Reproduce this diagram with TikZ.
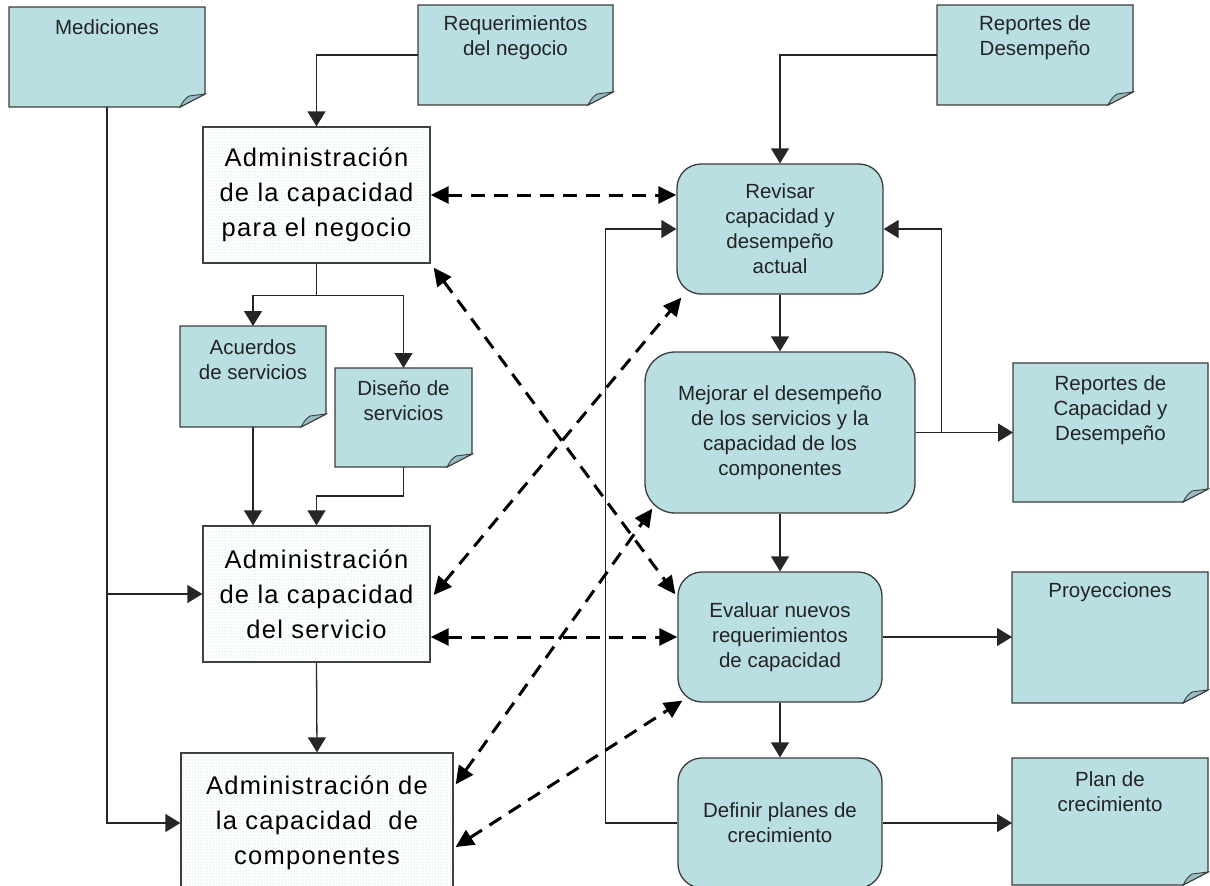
\documentclass[tikz,border=0pt]{standalone}
\usepackage{fontspec}
\setmainfont{Liberation Sans}
\newfontfamily\bigfont[LetterSpace=5]{Liberation Sans}
\usetikzlibrary{arrows.meta,patterns}
\definecolor{notefill}{RGB}{186,223,227}
\definecolor{foldfill}{RGB}{150,190,196}
\definecolor{edgec}{RGB}{60,60,60}
\definecolor{dotc}{RGB}{165,212,216}
\definecolor{txt}{RGB}{35,35,35}
\newcommand{\smallf}{\fontsize{20.5pt}{25pt}\selectfont}
\newcommand{\bigf}{\bigfont\fontsize{25.5pt}{35pt}\selectfont}
\newcommand{\mknote}[5]{%
  \node[notebox, minimum width={#4pt-#2pt}, minimum height={#5pt-#3pt}] (#1) at ({(#2+#4)/2},{(#3+#5)/2}) {};
  \filldraw[notestyle] (#1.north west) -- (#1.north east) -- ([yshift=13pt]#1.south east) -- ([xshift=-25pt]#1.south east) -- (#1.south west) -- cycle;
  \filldraw[foldstyle] ([xshift=-25pt]#1.south east) .. controls ([xshift=-21pt,yshift=7pt]#1.south east) .. ([xshift=-16pt,yshift=11pt]#1.south east) -- ([yshift=13pt]#1.south east) -- cycle;
}
\begin{document}
\begin{tikzpicture}[x=1pt,y=-1pt,
  notebox/.style={rectangle, draw=none, inner sep=0pt, outer sep=0pt},
  notestyle/.style={fill=notefill, draw=edgec, line width=1.3pt},
  foldstyle/.style={fill=foldfill, draw=edgec, line width=0.9pt},
  ntext/.style={font=\smallf, text=txt, align=center, inner sep=0pt},
  rbox/.style={draw=edgec, fill=notefill, rounded corners=24pt, line width=1.3pt, align=center, font=\smallf, text=txt, inner sep=0pt},
  admbox/.style={draw=edgec, fill=white, postaction={pattern=dots, pattern color=dotc}, line width=1.3pt, align=center, font=\bigf, inner sep=0pt},
  conn/.style={draw=black!85, line width=1.3pt, -{Triangle[length=15pt,width=18pt]}},
  plain/.style={draw=black!85, line width=1.3pt},
  dasharrow/.style={draw=black, line width=3pt, dash pattern=on 14pt off 9pt, {Triangle[length=18pt,width=17pt]}-{Triangle[length=18pt,width=17pt]}}
]
\useasboundingbox (0,0) rectangle (1210,886);
\clip (0,0) rectangle (1210,886);

% notes
\mknote{med}{9}{7}{205}{107}
\mknote{req}{418}{5}{613}{105}
\mknote{rdes}{937}{5}{1133}{105}
\mknote{acu}{180}{326}{326}{427}
\mknote{dis}{335}{368}{472}{467}
\mknote{rcd}{1013}{363}{1208}{502}
\mknote{proy}{1012}{572}{1208}{703}
\mknote{plan}{1012}{758}{1208}{885}

\node[ntext] (medT) at (107,27) {Mediciones};
\node[ntext] (reqT) at (515.5,38) {Requerimientos\\del negocio};
\node[ntext] (rdesT) at (1035,38) {Reportes de\\Desempeño};
\node[ntext] (acuT) at (253,360) {Acuerdos\\de servicios};
\node[ntext] (disT) at (403.5,401) {Diseño de\\servicios};
\node[ntext] (rcdT) at (1110.5,410) {Reportes de\\Capacidad y\\Desempeño};
\node[ntext] (proyT) at (1110,592) {Proyecciones};
\node[ntext] (planT) at (1110,792) {Plan de\\crecimiento};

% admin boxes
\node[admbox, minimum width=227pt, minimum height=136pt] (admn) at (316.5,195) {Administración\\de la capacidad\\para el negocio};
\node[admbox, minimum width=227pt, minimum height=136pt] (adms) at (316.5,594) {Administración\\de la capacidad\\del servicio};
\node[admbox, minimum width=272pt, minimum height=140pt] (admc) at (317,823) {Administración de\\la capacidad\ \ de\\componentes};

% process boxes
\node[rbox, minimum width=206pt, minimum height=130pt] (rev) at (780,229) {Revisar\\capacidad y\\desempeño\\actual};
\node[rbox, rounded corners=30pt, minimum width=270pt, minimum height=161pt] (mej) at (780,432.5) {Mejorar el desempeño\\de los servicios y la\\capacidad de los\\componentes};
\node[rbox, minimum width=204pt, minimum height=130pt] (eva) at (780,637) {Evaluar nuevos\\requerimientos\\de capacidad};
\node[rbox, minimum width=204pt, minimum height=130pt] (def) at (780,823) {Definir planes de\\crecimiento};

% solid connectors
\draw[conn] (med.south) |- (adms.west);
\draw[conn] (med.south) |- (admc.west);
\draw[conn] (req.west) -| (admn.north);
\path (admn.south) ++(0,32) coordinate (j1);
\draw[plain] (admn.south) -- (j1);
\draw[conn] (j1) -| (acu.north);
\draw[conn] (j1) -| (dis.north);
\draw[conn] (acu.south) -- (acu.south |- adms.north);
\draw[conn] (dis.south) -- ++(0,29) -| (adms.north);
\draw[conn] (adms.south) -- (admc.north);
\draw[conn] (rdes.west) -| (rev.north);
\draw[conn] (rev.south) -- (mej.north);
\draw[conn] (mej.south) -- (eva.north);
\draw[conn] (eva.south) -- (def.north);
\draw[conn] (mej.east) -- (rcd.west);
\path (mej.east) ++(26,0) coordinate (j3);
\draw[conn] (j3) |- (rev.east);
\draw[conn] (eva.east) -- (eva.east -| proy.west);
\draw[conn] (def.east) -- (def.east -| plan.west);
\draw[conn] (def.west) -- ++(-72,0) |- (rev.west);

% dashed connectors
\draw[dasharrow] (admn.east) -- (admn.east -| rev.west);
\draw[dasharrow] ([shift={(3,4)}]admn.south east) -- ([shift={(-2,23)}]eva.north west);
\draw[dasharrow] ([shift={(3,1)}]adms.east) -- ([shift={(5,3)}]rev.south west);
\draw[dasharrow] (adms.east |- eva.west) -- (eva.west);
\draw[dasharrow] ([shift={(2,32)}]admc.north east) -- ([shift={(8,-5)}]mej.south west);
\draw[dasharrow] ([shift={(2,24)}]admc.east) -- ([shift={(5,-2)}]eva.south west);
\end{tikzpicture}
\end{document}
